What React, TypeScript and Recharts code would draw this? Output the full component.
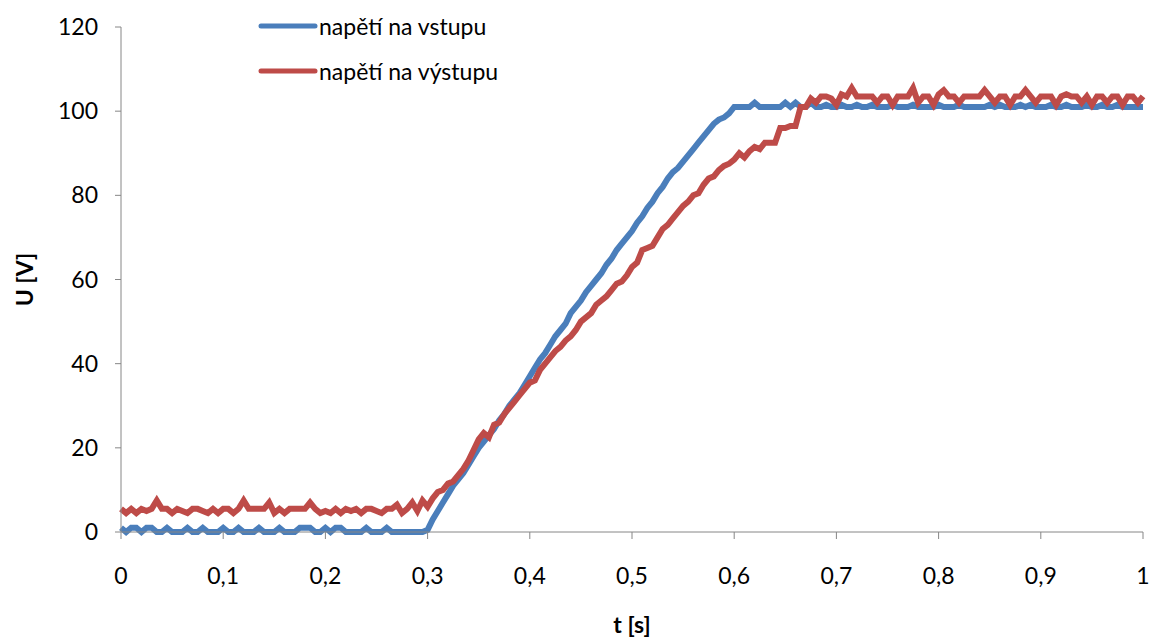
import { LineChart, Line, XAxis, YAxis, Legend } from 'recharts';

// time in ms, sampled every 5 ms
const timeMs = [
  0, 5, 10, 15, 20, 25, 30, 35, 40, 45, 50, 55, 60, 65, 70, 75, 80, 85, 90, 95,
  100, 105, 110, 115, 120, 125, 130, 135, 140, 145, 150, 155, 160, 165, 170, 175, 180, 185, 190, 195,
  200, 205, 210, 215, 220, 225, 230, 235, 240, 245, 250, 255, 260, 265, 270, 275, 280, 285, 290, 295,
  300, 305, 310, 315, 320, 325, 330, 335, 340, 345, 350, 355, 360, 365, 370, 375, 380, 385, 390, 395,
  400, 405, 410, 415, 420, 425, 430, 435, 440, 445, 450, 455, 460, 465, 470, 475, 480, 485, 490, 495,
  500, 505, 510, 515, 520, 525, 530, 535, 540, 545, 550, 555, 560, 565, 570, 575, 580, 585, 590, 595,
  600, 605, 610, 615, 620, 625, 630, 635, 640, 645, 650, 655, 660, 665, 670, 675, 680, 685, 690, 695,
  700, 705, 710, 715, 720, 725, 730, 735, 740, 745, 750, 755, 760, 765, 770, 775, 780, 785, 790, 795,
  800, 805, 810, 815, 820, 825, 830, 835, 840, 845, 850, 855, 860, 865, 870, 875, 880, 885, 890, 895,
  900, 905, 910, 915, 920, 925, 930, 935, 940, 945, 950, 955, 960, 965, 970, 975, 980, 985, 990, 995,
  1000,
];

// napětí na vstupu [V]
const inputVoltage = [
  1, 0, 1, 1, 0, 1, 1, 0, 0, 1, 0, 0, 0, 1, 0, 0, 1, 0, 0, 0,
  1, 0, 0, 1, 0, 0, 0, 1, 0, 0, 0, 1, 0, 0, 0, 1, 1, 1, 0, 0,
  1, 0, 1, 1, 0, 0, 0, 0, 1, 0, 0, 0, 1, 0, 0, 0, 0, 0, 0, 0,
  0.5, 3, 5, 7, 9, 11, 12.5, 14, 16, 18, 20, 21.5, 23, 24.5, 26.5, 28, 30, 31.5, 33, 35,
  37, 39, 41, 42.5, 44.5, 46.5, 48, 49.5, 52, 53.5, 55, 57, 58.5, 60, 61.5, 63.5, 65, 67, 68.5, 70,
  71.5, 73.5, 75, 77, 78.5, 80.5, 82, 84, 85.5, 86.5, 88, 89.5, 91, 92.5, 94, 95.5, 97, 98, 98.5, 99.5,
  101,
  101, 101, 101, 102, 101, 101, 101, 101, 101, 102, 101, 102, 101, 101, 102, 101, 101, 101.5, 101, 101,
  101.5, 101, 101, 101.5, 101, 101, 101.5, 101, 101, 101, 101.5, 101, 101, 101, 101.5, 101, 101, 101, 101, 101.5,
  101, 101, 101, 101.5, 101, 101, 101, 101, 101, 101.5, 101, 101.5, 101, 101, 101, 101.5, 101, 101.5, 101, 101,
  101, 101.5, 101, 101, 101.5, 101, 101, 101, 101.5, 101, 101, 101.5, 101, 101, 101.5, 101, 101, 101, 101, 101,
];

// napětí na výstupu [V]
const outputVoltage = [
  5.5, 4.5, 5.5, 4.5, 5.5, 5, 5.5, 7.5, 5.5, 5.5, 4.5, 5.5, 5, 4.5, 5.5, 5.5, 5, 4.5, 5.5, 4.5,
  5.5, 5.5, 4.5, 5.5, 7.5, 5.5, 5.5, 5.5, 5.5, 7, 4.5, 5.5, 4.5, 5.5, 5.5, 5.5, 5.5, 7, 5.5, 4.5,
  5, 4.5, 5.5, 4.5, 5.5, 5, 5.5, 4.5, 5.5, 5.5, 5, 4.5, 5.5, 5.5, 6.5, 4.5,
  5.5, 7, 5, 7.5, 6, 8, 9.5, 10, 11.5, 12, 13.5, 15, 17, 19.5, 22, 23.5, 22.5, 25.5, 26, 28,
  29.5, 31, 32.5, 34, 35.5, 36, 38.5, 40, 41.5, 43, 44, 45.5, 46.5, 48, 50, 51, 52, 54, 55, 56,
  57.5, 59, 59.5, 61, 63, 64, 67, 67.5, 68, 70, 72, 73, 74.5, 76, 77.5, 78.5, 80, 80.5, 82.5, 84,
  84.5, 86, 87, 87.5, 88.5, 90, 89, 90.5, 91.5, 91, 92.5, 92.5, 92.5, 96, 96, 96.5, 96.5, 101, 101, 103,
  102,
  103.5, 103.5, 103, 101.5, 104, 103.5, 105.5, 103.5, 103.5, 103.5, 103.5, 102, 103.5, 103.5, 101.5, 103.5, 103.5, 103.5, 105.5, 102,
  103.5, 103.5, 101.5, 104, 105, 103.5, 103.5, 102, 103.5, 103.5, 103.5, 103.5, 105, 103.5, 102, 103.5, 103.5, 101.5, 103.5, 103.5,
  105, 103.5, 102, 103.5, 103.5, 103.5, 101.5, 103.5, 104, 103.5, 103.5, 102, 103.5, 101.5, 103.5, 103.5, 102, 103.5, 103.5, 101.5,
  103.5, 103.5, 102, 103.5,
];

const xTicks = [0, 0.1, 0.2, 0.3, 0.4, 0.5, 0.6, 0.7, 0.8, 0.9, 1];
const yTicks = [0, 20, 40, 60, 80, 100, 120];

const data = timeMs.map((ms, i) => ({
  t: ms / 1000,
  vstup: inputVoltage[i],
  vystup: outputVoltage[i],
}));

const FONT = 'Lato, "Open Sans", sans-serif';
const AXIS = '#868686';

function LegendBox({ payload }: any) {
  return (
    <div style={{ fontFamily: FONT, fontSize: 23, color: '#000' }}>
      {(payload || []).map((p: any) => (
        <div key={p.value} style={{ display: 'flex', alignItems: 'center', height: 45 }}>
          <svg width={62} height={10}>
            <line x1={4} x2={58} y1={5} y2={5} stroke={p.color} strokeWidth={5} strokeLinecap="round" />
          </svg>
          <span>{p.value}</span>
        </div>
      ))}
    </div>
  );
}

export default function App() {
  return (
    <div style={{ position: 'absolute', left: 0, top: 0, background: '#fff' }}>
      <LineChart width={1152} height={637} data={data} margin={{ top: 27, right: 9, left: 0, bottom: 0 }}>
        <XAxis
          dataKey="t"
          type="number"
          domain={[0, 1]}
          ticks={xTicks}
          tickFormatter={(v: number) => String(v).replace('.', ',')}
          height={105}
          stroke={AXIS}
          tickSize={7}
          tickMargin={29}
          tick={{ fill: '#000', fontSize: 23, fontFamily: FONT }}
          label={{
            value: 't [s]',
            position: 'insideBottom',
            offset: 4,
            style: { fill: '#000', fontSize: 23, fontWeight: 'bold', fontFamily: FONT },
          }}
        />
        <YAxis
          type="number"
          domain={[0, 120]}
          ticks={yTicks}
          width={121}
          stroke={AXIS}
          tickSize={6}
          tickMargin={17}
          tick={{ fill: '#000', fontSize: 23, fontFamily: FONT }}
          label={{
            value: 'U [V]',
            angle: -90,
            position: 'insideLeft',
            offset: 25,
            style: { fill: '#000', fontSize: 23, fontWeight: 'bold', fontFamily: FONT, textAnchor: 'middle' },
          }}
        />
        <Legend
          layout="vertical"
          align="center"
          verticalAlign="middle"
          wrapperStyle={{ left: 257, top: 3, width: 'auto' }}
          content={<LegendBox />}
        />
        <Line
          type="linear"
          dataKey="vstup"
          name="napětí na vstupu"
          stroke="#4A7EBB"
          strokeWidth={6}
          dot={false}
          isAnimationActive={false}
        />
        <Line
          type="linear"
          dataKey="vystup"
          name="napětí na výstupu"
          stroke="#BE4B48"
          strokeWidth={6}
          dot={false}
          isAnimationActive={false}
        />
      </LineChart>
    </div>
  );
}
